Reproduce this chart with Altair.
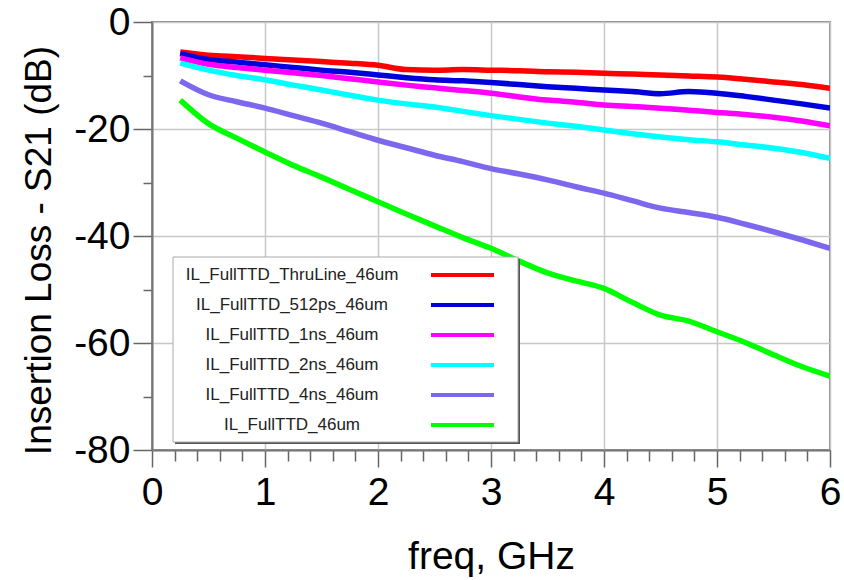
import altair as alt
import pandas as pd

# ---------------- data ----------------
freq = [0.25, 0.5, 0.75, 1.0, 1.25, 1.5, 1.75, 2.0, 2.25, 2.5, 2.75, 3.0,
        3.25, 3.5, 3.75, 4.0, 4.25, 4.5, 4.75, 5.0, 5.25, 5.5, 5.75, 6.0]

thruline = [-5.6, -6.2, -6.5, -6.8, -7.1, -7.4, -7.7, -8.1, -8.9, -9.0, -8.9, -9.0,
            -9.1, -9.3, -9.4, -9.6, -9.7, -9.9, -10.1, -10.3, -10.7, -11.2, -11.7, -12.4]
ps512 = [-5.9, -7.0, -7.5, -8.0, -8.5, -9.0, -9.4, -9.9, -10.4, -10.8, -11.0, -11.3,
         -11.7, -12.1, -12.4, -12.7, -13.0, -13.4, -13.0, -13.3, -13.9, -14.6, -15.3, -16.1]
ns1 = [-6.7, -7.9, -8.5, -9.0, -9.5, -10.0, -10.6, -11.2, -11.8, -12.3, -12.8, -13.3,
       -14.0, -14.6, -15.0, -15.5, -15.8, -16.1, -16.5, -16.9, -17.3, -17.8, -18.5, -19.4]
ns2 = [-7.7, -9.0, -10.0, -10.8, -11.8, -12.7, -13.7, -14.6, -15.3, -15.9, -16.7, -17.5,
       -18.2, -18.9, -19.5, -20.2, -20.9, -21.5, -22.0, -22.4, -23.0, -23.6, -24.4, -25.5]
ns4 = [-11.0, -13.6, -14.9, -16.1, -17.5, -18.9, -20.5, -22.1, -23.5, -24.9, -26.1, -27.4,
       -28.4, -29.5, -30.8, -32.0, -33.4, -34.8, -35.6, -36.5, -37.8, -39.2, -40.7, -42.3]
fullttd = [-14.6, -19.0, -21.7, -24.3, -26.8, -29.0, -31.3, -33.6, -35.9, -38.1, -40.3, -42.3,
           -44.7, -46.9, -48.4, -49.8, -52.4, -54.8, -55.9, -57.9, -59.9, -62.2, -64.4, -66.2]

series_names = ["IL_FullTTD_ThruLine_46um", "IL_FullTTD_512ps_46um", "IL_FullTTD_1ns_46um",
                "IL_FullTTD_2ns_46um", "IL_FullTTD_4ns_46um", "IL_FullTTD_46um"]
series_colors = ["#ff0000", "#0000dd", "#ff00ff", "#00ffff", "#7b68ee", "#00ff00"]

x_tick_values = [round(0.2 * k, 1) for k in range(31)]
y_tick_values = [0, -10, -20, -30, -40, -50, -60, -70, -80]

rows = []
for name, vals in zip(series_names, [thruline, ps512, ns1, ns2, ns4, fullttd]):
    for f, v in zip(freq, vals):
        rows.append({"series": name, "freq": f, "dB": v})
df = pd.DataFrame(rows)

FONT = "Liberation Sans"
W, H = 678, 428

color_scale = alt.Scale(domain=series_names, range=series_colors)

x_major = "abs(datum.value - round(datum.value)) < 0.01"
y_major = "datum.value % 20 === 0"

lines = alt.Chart(df).mark_line(strokeWidth=5.5, clip=True, interpolate="monotone").encode(
    x=alt.X("freq:Q", scale=alt.Scale(domain=[0, 6], nice=False, zero=False),
            axis=alt.Axis(values=x_tick_values,
                          labelExpr=f"{x_major} ? '' + round(datum.value) : ''",
                          tickSize={"condition": {"test": x_major, "value": 17}, "value": 11},
                          gridOpacity={"condition": {"test": x_major, "value": 1}, "value": 0},
                          labelPadding=6, labelFlush=False, labelOverlap=False,
                          title="freq, GHz", titleX=W / 2, titleY=118,
                          titleAlign="center", titleBaseline="alphabetic")),
    y=alt.Y("dB:Q", scale=alt.Scale(domain=[-80, 0], nice=False),
            axis=alt.Axis(values=y_tick_values,
                          labelExpr=f"{y_major} ? '' + datum.value : ''",
                          tickSize={"condition": {"test": y_major, "value": 19}, "value": 9},
                          gridOpacity={"condition": {"test": y_major, "value": 1}, "value": 0},
                          labelPadding=3, labelFlush=False, labelOverlap=False,
                          title="Insertion Loss - S21 (dB)", titleAngle=270,
                          titleX=-102, titleY=H / 2 + 14, titleAlign="center",
                          titleBaseline="alphabetic", titleFontSize=37)),
    color=alt.Color("series:N", scale=color_scale, legend=None),
)

one = pd.DataFrame({"k": [0]})
shadow = alt.Chart(one).mark_rect(fill="#555555").encode(
    x=alt.value(23), x2=alt.value(368), y=alt.value(237), y2=alt.value(422))
box = alt.Chart(one).mark_rect(fill="white", stroke="#aaaaaa", strokeWidth=1).encode(
    x=alt.value(21), x2=alt.value(366), y=alt.value(235), y2=alt.value(420))

leg_df = pd.DataFrame({"series": series_names})
leg_y = alt.Scale(type="point", domain=series_names, range=[253, 403], padding=0)

leg_lines = alt.Chart(leg_df).mark_rule(strokeWidth=4).encode(
    x=alt.value(279), x2=alt.value(342),
    y=alt.Y("series:N", scale=leg_y, axis=None),
    color=alt.Color("series:N", scale=color_scale, legend=None))
leg_text = alt.Chart(leg_df).mark_text(font=FONT, fontSize=17, align="center",
                                       baseline="middle", color="#222222").encode(
    x=alt.value(140),
    y=alt.Y("series:N", scale=leg_y, axis=None),
    text="series:N")

chart = alt.layer(lines, shadow, box, leg_lines, leg_text).resolve_scale(
    y="independent"
).properties(
    width=W, height=H,
    autosize=alt.AutoSizeParams(type="none"),
    padding={"left": 152, "top": 22, "right": 14, "bottom": 130},
    background="white",
).configure_view(
    stroke="#888888", strokeWidth=2
).configure_axis(
    labelFont=FONT, titleFont=FONT, labelFontSize=39, titleFontSize=39,
    labelColor="black", titleColor="black", titleFontWeight="normal",
    gridColor="#c8c8c8", gridWidth=1.5, tickColor="#666666", tickWidth=1.5,
    domainColor="#777777", domainWidth=2,
)

chart.save("out.html", embed_options={"renderer": "svg", "actions": False})
